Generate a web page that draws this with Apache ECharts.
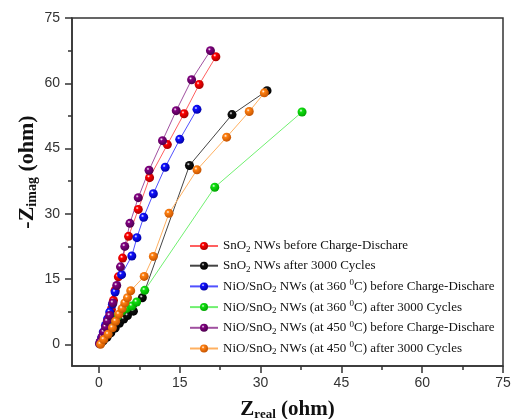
<!DOCTYPE html>
<html>
<head>
<meta charset="utf-8">
<script src="https://cdn.jsdelivr.net/npm/echarts@6/dist/echarts.min.js"></script>
<style>
  html, body { margin: 0; padding: 0; background: #fff; }
  #chart { width: 513px; height: 419px; }
</style>
</head>
<body>
<div id="chart"></div>
<script>
// 数据 (Zreal, -Zimag)
const snoBefore = [[0.2,0.4],[0.6,1.5],[1.0,2.8],[1.4,4.4],[1.9,6.2],[2.3,8.0],[2.7,10.1],[3.0,12.4],[3.6,15.5],[4.4,19.8],[5.5,24.8],[7.3,31.0],[9.4,38.3],[12.7,45.9],[15.8,53.0],[18.6,59.7],[21.7,66.1]];
const snoAfter = [[0.3,0.2],[0.8,0.8],[1.5,1.6],[2.2,2.6],[3.0,3.7],[3.8,4.8],[4.6,5.8],[5.3,6.6],[6.4,7.6],[8.05,10.7],[16.8,41.1],[24.7,52.8],[31.2,58.3]];
const nio360Before = [[0.2,0.4],[0.5,1.5],[0.8,2.8],[1.2,4.3],[1.6,5.8],[2.0,7.4],[2.5,9.2],[3.0,12.0],[4.2,16.0],[6.1,20.3],[7.05,24.5],[8.3,29.2],[10.1,34.6],[12.3,40.7],[15.0,47.1],[18.2,54.0]];
const nio360After = [[0.2,0.2],[0.7,1.2],[1.3,2.4],[2.0,3.8],[2.7,5.2],[3.5,6.5],[4.3,7.6],[5.1,8.2],[6.1,8.8],[7.0,9.7],[8.5,12.4],[21.5,36.1],[37.7,53.4]];
const nio450Before = [[0.1,0.1],[0.3,0.7],[0.6,1.7],[0.9,2.8],[1.25,4.0],[1.55,5.3],[2.0,6.6],[2.6,9.5],[3.3,13.5],[4.0,17.8],[4.8,22.5],[5.75,27.8],[7.3,33.7],[9.3,40.0],[11.8,46.8],[14.35,53.7],[17.2,60.8],[20.7,67.5]];
const nio450After = [[0.3,0.0],[0.9,1.1],[1.7,2.3],[2.5,3.8],[3.1,5.3],[3.7,6.9],[4.3,8.2],[4.8,9.5],[5.3,10.7],[5.9,12.3],[8.4,15.6],[10.1,20.2],[13.0,30.1],[18.2,40.1],[23.7,47.6],[27.9,53.5],[30.7,57.8]];

const names = [
  "SnO2 NWs before Charge-Dischare",
  "SnO2 NWs after 3000 Cycles",
  "NiO/SnO2 NWs (at 360 0C) before Charge-Dischare",
  "NiO/SnO2 NWs (at 360 0C) after 3000 Cycles",
  "NiO/SnO2 NWs (at 450 0C) before Charge-Dischare",
  "NiO/SnO2 NWs (at 450 0C) after 3000 Cycles"
];
const seriesData = [snoBefore, snoAfter, nio360Before, nio360After, nio450Before, nio450After];
// 点的颜色 / 线的颜色
const ballColors = ["#ff0000", "#111111", "#1010ff", "#10e010", "#800080", "#ff8010"];
const ballDark = ["#a00000", "#000000", "#0000a0", "#00a000", "#4a004a", "#c05000"];
const lineColors = ["#ff6060", "#444444", "#5050ff", "#70f070", "#a050a0", "#ffb060"];

const majorTicks = [0, 15, 30, 45, 60, 75];
const minorTicks = [7.5, 22.5, 37.5, 52.5, 67.5];

function ball(i) {
  return {
    type: "radial", x: 0.38, y: 0.35, r: 0.7,
    colorStops: [
      { offset: 0, color: "#ffffff" },
      { offset: 0.25, color: ballColors[i] },
      { offset: 1, color: ballDark[i] }
    ]
  };
}

// 图例文字 下标2, 上标0
function legendText(name) {
  let s = name.replace(/SnO2/, "SnO}{sub|2}{t|").replace(/ 0C\)/, " }{sup|0}{t|C)");
  return "{t|" + s + "}";
}

const myEcharts = echarts.init(document.getElementById("chart"));

const axisLineStyle = { color: "#333", width: 1.5 };
const labelStyle = { fontFamily: "Arial, 'Liberation Sans'", fontSize: 14, color: "#333" };
const serif = "'Liberation Serif', 'Times New Roman'";

myEcharts.setOption({
  animation: false,
  grid: { left: 72, top: 18, right: 10, bottom: 53, show: true, borderColor: "#333", borderWidth: 1.5, outerBoundsMode: "none" },
  legend: {
    orient: "vertical",
    left: 184,
    top: 234,
    itemWidth: 28,
    itemHeight: 10,
    itemGap: 4.7,
    data: names,
    formatter: legendText,
    textStyle: {
      rich: {
        t: { fontFamily: serif, fontSize: 13, color: "#111", lineHeight: 16 },
        sub: { fontFamily: serif, fontSize: 9, color: "#111", verticalAlign: "bottom", lineHeight: 12, padding: [6, 0, 0, 0] },
        sup: { fontFamily: serif, fontSize: 9, color: "#111", verticalAlign: "top", lineHeight: 12, padding: [0, 0, 6, 0] }
      }
    }
  },
  xAxis: [
    {
      type: "value", min: -5, max: 75,
      name: "{z|Z}{s|real}{z| (ohm)}",
      nameLocation: "middle", nameGap: 32,
      nameTextStyle: {
        rich: {
          z: { fontFamily: serif, fontSize: 21, fontWeight: "bold", color: "#111" },
          s: { fontFamily: serif, fontSize: 13, fontWeight: "bold", color: "#111", verticalAlign: "bottom", padding: [10, 0, 0, 0] }
        }
      },
      axisLine: { onZero: false, lineStyle: axisLineStyle },
      axisTick: { length: 7, lineStyle: axisLineStyle, customValues: majorTicks },
      axisLabel: { ...labelStyle, margin: 10, customValues: majorTicks },
      splitLine: { show: false }
    },
    {
      type: "value", min: -5, max: 75, position: "bottom",
      axisLine: { show: false, onZero: false },
      axisTick: { length: 4, lineStyle: axisLineStyle, customValues: minorTicks },
      axisLabel: { show: false },
      splitLine: { show: false }
    }
  ],
  yAxis: [
    {
      type: "value", min: -5, max: 75,
      name: "{z|-Z}{s|imag}{z| (ohm)}",
      nameLocation: "middle", nameGap: 33, nameRotate: 90,
      nameMoveOverlap: false,
      nameTextStyle: {
        padding: [0, 0, 0, 40],
        rich: {
          z: { fontFamily: serif, fontSize: 22, fontWeight: "bold", color: "#111" },
          s: { fontFamily: serif, fontSize: 14, fontWeight: "bold", color: "#111", verticalAlign: "bottom", padding: [10, 0, 0, 0] }
        }
      },
      axisLine: { onZero: false, lineStyle: axisLineStyle },
      axisTick: { length: 7, lineStyle: axisLineStyle, customValues: majorTicks },
      axisLabel: { ...labelStyle, margin: 12, customValues: majorTicks },
      splitLine: { show: false }
    },
    {
      type: "value", min: -5, max: 75, position: "left",
      axisLine: { show: false, onZero: false },
      axisTick: { length: 4, lineStyle: axisLineStyle, customValues: minorTicks },
      axisLabel: { show: false },
      splitLine: { show: false }
    }
  ],
  series: seriesData.map((d, i) => ({
    name: names[i],
    type: "line",
    data: d,
    symbol: "circle",
    symbolSize: 9,
    itemStyle: { color: ball(i), borderWidth: 0 },
    lineStyle: { color: lineColors[i], width: 1 }
  }))
});
</script>
</body>
</html>
